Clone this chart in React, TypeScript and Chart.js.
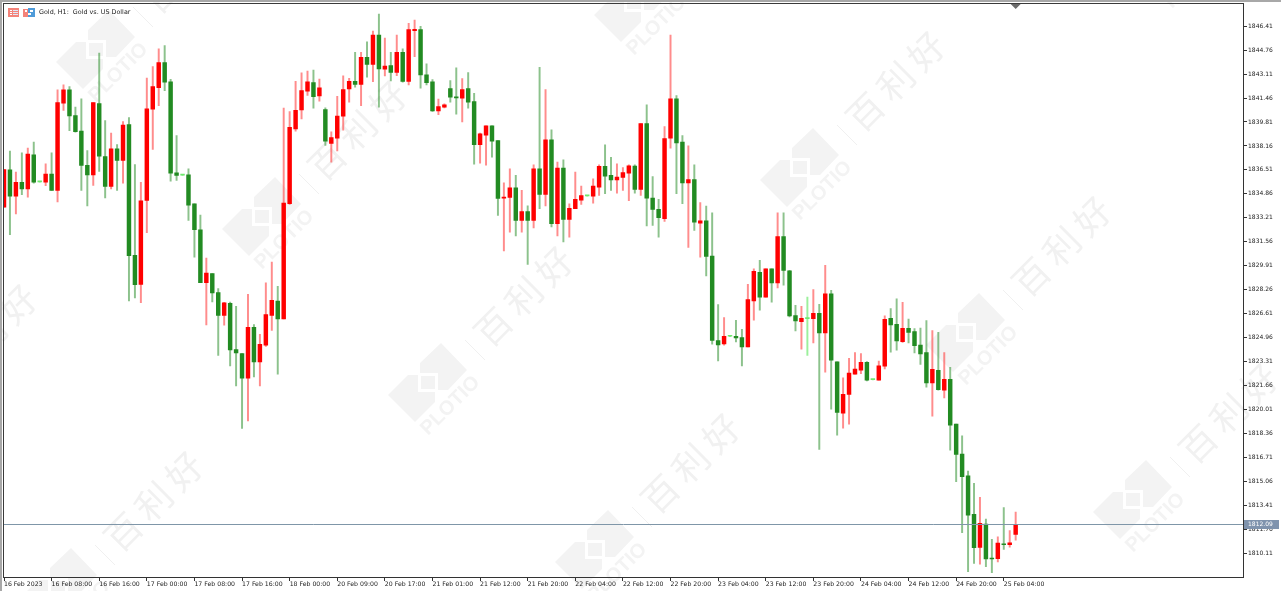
import React, { useEffect, useRef } from "react";
import { Chart, registerables } from "chart.js";

Chart.register(...registerables);

const open = [
  1833.95,1836.52,1834.71,1835.65,1835.21,1837.55,1835.69,1835.67,1836.22,1835.10,
  1841.10,1842.02,1840.25,1839.18,1836.82,1836.17,1841.08,1837.43,1835.37,1837.96,
  1837.16,1839.63,1830.63,1828.63,1834.41,1840.69,1842.18,1843.90,1842.57,1836.31,
  1836.15,1836.17,1834.18,1832.39,1828.75,1829.37,1828.06,1826.50,1827.33,1824.14,
  1823.87,1822.17,1825.68,1823.30,1824.44,1826.50,1827.49,1826.25,1834.18,1839.34,
  1840.64,1841.93,1842.52,1841.61,1840.67,1838.33,1838.70,1840.21,1842.09,1842.61,
  1842.39,1844.26,1843.78,1845.80,1843.44,1843.69,1843.23,1844.61,1842.61,1846.10,
  1846.17,1843.05,1842.57,1840.57,1840.83,1842.11,1841.54,1841.45,1842.11,1841.22,
  1838.24,1838.90,1839.54,1838.53,1834.57,1834.62,1835.28,1833.03,1833.65,1833.03,
  1836.59,1834.82,1838.58,1832.81,1836.63,1833.10,1833.84,1834.43,1834.72,1834.71,
  1835.33,1836.75,1836.13,1835.83,1835.99,1836.29,1836.77,1835.17,1839.70,1834.57,
  1833.79,1833.15,1838.70,1841.40,1838.42,1835.62,1835.85,1832.85,1833.01,1830.58,
  1824.76,1824.53,1825.06,1825.06,1824.97,1824.33,1827.49,1829.46,1827.76,1829.71,
  1828.73,1831.93,1829.57,1826.48,1826.07,1826.28,1826.27,1826.64,1825.29,1827.99,
  1823.30,1819.77,1821.05,1822.45,1822.72,1823.27,1822.08,1822.03,1823.00,1826.30,
  1825.88,1824.69,1825.61,1825.38,1824.46,1823.94,1821.85,1822.72,1821.35,1822.10,
  1819.01,1816.95,1815.46,1812.80,1810.53,1812.13,1809.77,1809.75,1810.76,1810.71,1811.42,
];

const high = [
  1836.54,1837.80,1836.36,1837.69,1838.01,1838.42,1835.72,1836.93,1837.69,1842.02,
  1842.36,1842.25,1840.83,1841.40,1837.85,1841.15,1844.56,1839.91,1839.04,1838.26,
  1839.84,1840.12,1836.88,1835.65,1842.84,1843.62,1844.84,1845.07,1842.75,1838.88,
  1836.17,1836.59,1834.18,1833.40,1830.45,1829.37,1828.34,1827.40,1827.42,1827.12,
  1823.87,1827.95,1825.86,1825.20,1828.73,1830.17,1828.50,1840.76,1840.53,1842.61,
  1843.19,1843.32,1843.39,1842.77,1840.78,1839.13,1841.58,1842.98,1842.82,1844.61,
  1844.61,1845.32,1846.07,1847.24,1845.59,1844.61,1845.80,1844.84,1846.60,1846.83,
  1846.40,1843.81,1842.73,1841.38,1841.06,1842.66,1843.53,1842.80,1843.21,1841.79,
  1839.04,1839.54,1839.54,1838.53,1835.62,1836.59,1836.13,1835.10,1834.04,1836.86,
  1843.58,1842.04,1839.27,1837.05,1837.21,1834.18,1836.36,1835.40,1834.73,1835.90,
  1836.86,1838.24,1837.37,1836.93,1836.68,1836.86,1836.86,1839.70,1840.99,1836.06,
  1834.48,1839.50,1845.80,1841.63,1838.88,1838.17,1836.86,1834.27,1834.02,1833.56,
  1827.24,1826.34,1825.08,1826.16,1825.54,1828.63,1829.71,1830.28,1829.71,1829.71,
  1833.56,1833.56,1829.60,1827.19,1827.12,1827.76,1828.27,1827.26,1829.94,1828.22,
  1823.30,1822.20,1823.55,1823.94,1823.87,1823.32,1822.10,1823.36,1826.46,1826.96,
  1827.63,1827.40,1826.25,1825.59,1825.63,1826.14,1825.45,1825.33,1823.94,1822.93,
  1819.01,1818.21,1815.78,1814.93,1813.97,1812.48,1811.08,1811.26,1813.26,1811.68,1812.96,
];

const low = [
  1833.95,1832.05,1833.49,1834.80,1834.64,1835.60,1835.67,1835.42,1835.10,1834.30,
  1840.60,1839.22,1839.11,1835.10,1834.04,1835.44,1836.40,1834.59,1835.21,1835.10,
  1835.60,1827.49,1827.70,1827.37,1832.19,1837.92,1840.94,1841.97,1835.74,1835.78,
  1836.13,1833.03,1830.51,1828.75,1825.84,1827.42,1823.75,1825.82,1823.02,1821.65,
  1818.71,1819.24,1822.26,1821.65,1824.37,1825.47,1822.45,1826.25,1834.13,1839.18,
  1840.02,1841.63,1840.76,1841.24,1838.19,1837.05,1837.82,1839.25,1841.17,1842.20,
  1840.94,1842.89,1842.59,1840.83,1842.98,1842.64,1843.00,1842.55,1842.36,1844.31,
  1842.13,1842.36,1840.53,1840.32,1840.78,1841.17,1840.35,1839.82,1840.76,1836.91,
  1836.98,1836.84,1837.39,1833.38,1830.93,1832.23,1831.96,1832.23,1830.01,1832.51,
  1833.84,1834.04,1832.58,1831.96,1831.55,1831.89,1833.84,1834.13,1834.71,1834.23,
  1834.75,1834.87,1835.10,1834.91,1835.10,1834.39,1834.91,1834.75,1832.65,1832.69,
  1831.89,1832.97,1838.01,1834.87,1834.18,1831.18,1832.35,1830.51,1829.21,1824.51,
  1823.36,1824.44,1825.04,1824.67,1823.02,1824.33,1826.16,1826.85,1827.76,1827.40,
  1828.38,1828.57,1826.39,1825.43,1824.17,1823.75,1824.60,1817.27,1822.59,1820.04,
  1818.25,1818.73,1819.01,1822.45,1822.49,1821.99,1822.06,1822.03,1822.81,1823.96,
  1824.10,1824.63,1824.60,1823.91,1823.13,1821.55,1819.56,1821.35,1820.82,1817.22,
  1815.05,1811.54,1808.86,1809.43,1809.38,1809.20,1808.79,1809.52,1810.39,1810.55,1811.03,
];

const close = [
  1836.54,1834.71,1835.65,1835.21,1837.60,1835.67,1835.69,1836.22,1835.10,1841.15,
  1842.02,1840.23,1839.15,1836.82,1836.17,1841.15,1837.46,1835.37,1837.96,1837.16,
  1839.59,1830.61,1828.61,1834.39,1840.71,1842.25,1843.90,1842.55,1836.29,1836.13,
  1836.15,1834.09,1832.39,1828.75,1829.41,1828.04,1826.50,1827.37,1824.12,1823.91,
  1822.17,1825.68,1823.30,1824.51,1826.55,1827.53,1826.25,1834.23,1839.45,1840.62,
  1841.97,1842.57,1841.56,1842.16,1838.49,1838.74,1840.21,1842.04,1842.61,1842.39,
  1844.26,1843.78,1845.80,1843.46,1843.65,1843.23,1844.61,1842.61,1846.17,1846.19,
  1843.05,1842.52,1840.57,1840.87,1840.99,1841.51,1841.47,1842.04,1841.17,1838.24,
  1838.99,1839.54,1838.49,1834.55,1834.64,1835.28,1833.03,1833.65,1833.03,1836.59,
  1834.82,1838.58,1832.81,1836.63,1833.10,1833.86,1834.48,1834.75,1834.72,1835.40,
  1836.75,1836.08,1835.83,1836.01,1836.33,1836.79,1835.17,1839.70,1834.57,1833.79,
  1833.22,1838.67,1841.40,1838.37,1835.62,1835.85,1832.92,1833.01,1830.56,1824.78,
  1824.46,1825.06,1825.06,1824.95,1824.33,1827.58,1829.53,1827.76,1829.71,1828.73,
  1831.93,1829.60,1826.46,1826.11,1826.30,1826.28,1826.64,1825.29,1827.99,1823.41,
  1819.81,1821.07,1822.52,1822.81,1823.27,1822.03,1822.08,1823.02,1826.23,1825.84,
  1824.74,1825.61,1825.33,1824.42,1823.85,1821.85,1822.79,1821.39,1822.10,1818.94,
  1816.92,1815.39,1812.75,1810.51,1812.18,1809.73,1809.73,1810.83,1810.71,1810.85,1812.09,
];

const timeLabels = [
  "16 Feb 2023","16 Feb 08:00","16 Feb 16:00","17 Feb 00:00","17 Feb 08:00","17 Feb 16:00",
  "18 Feb 00:00","20 Feb 09:00","20 Feb 17:00","21 Feb 01:00","21 Feb 12:00","21 Feb 20:00",
  "22 Feb 04:00","22 Feb 12:00","22 Feb 20:00","23 Feb 04:00","23 Feb 12:00","23 Feb 20:00",
  "24 Feb 04:00","24 Feb 12:00","24 Feb 20:00","25 Feb 04:00",
];
const barsPerTimeLabel = 8;

const priceTicks = [
  1846.41,1844.76,1843.11,1841.46,1839.81,1838.16,1836.51,1834.86,1833.21,1831.56,1829.91,
  1828.26,1826.61,1824.96,1823.31,1821.66,1820.01,1818.36,1816.71,1815.06,1813.41,1811.76,1810.11,
];
const lastPrice = 1812.09;
const chartTitle = "Gold, H1:  Gold vs. US Dollar";

const RED = "#ff0000";
const GREEN = "#228b22";
const LIME = "#6fe86f";
const WICK_RED = "rgba(255,70,70,0.62)";
const WICK_GREEN = "rgba(34,139,34,0.52)";
const WICK_LIME = "#9cf09c";
const MARK = "#f3f3f3";
const FONT = '"DejaVu Sans", sans-serif';

const logoOrigins: [number, number][] = [
  [56, 62], [222, 229], [388, 395], [555, 562],
  [594, 15], [760, 180], [926, 345], [1093, 512],
  [1132, -32], [18, 600], [-148, 433],
];

function poly(ctx: CanvasRenderingContext2D, pts: number[][]) {
  ctx.beginPath();
  pts.forEach(([x, y], i) => (i ? ctx.lineTo(x, y) : ctx.moveTo(x, y)));
  ctx.closePath();
  ctx.fill();
}

function drawWatermark(ctx: CanvasRenderingContext2D) {
  ctx.save();
  ctx.fillStyle = MARK;
  ctx.strokeStyle = "#f0f0f0";
  for (const [ox, oy] of logoOrigins) {
    ctx.save();
    ctx.translate(ox, oy);
    poly(ctx, [[0, 0], [20, -20], [30, -20], [30, -3], [47, -3], [47, 7], [27, 27]]);
    poly(ctx, [[32, -32], [53, -52], [79, -25], [60, -5], [50, -5], [50, -22], [32, -22]]);
    ctx.fillRect(33, -19, 14, 13);
    ctx.beginPath();
    ctx.moveTo(77, -55);
    ctx.lineTo(97, -35);
    ctx.stroke();
    ctx.save();
    ctx.translate(40, 41);
    ctx.rotate(-Math.PI / 4);
    ctx.font = "bold 20px 'Liberation Sans', sans-serif";
    ctx.textAlign = "left";
    ctx.textBaseline = "alphabetic";
    ctx.fillText("PLOTIO", 0, 0);
    ctx.restore();
    ctx.save();
    ctx.translate(138, -101);
    ctx.rotate(-Math.PI / 4);
    ctx.font = "36px 'Noto Sans CJK SC', sans-serif";
    (ctx as any).letterSpacing = "7px";
    ctx.textAlign = "center";
    ctx.textBaseline = "middle";
    ctx.fillStyle = "#f1f1f1";
    ctx.fillText("百利好", 0, 0);
    ctx.restore();
    ctx.restore();
  }
  ctx.restore();
}

function drawHeader(ctx: CanvasRenderingContext2D) {
  ctx.save();
  // window frame
  ctx.fillStyle = "#a8a8a8";
  ctx.fillRect(0, 0, 1281, 2);
  ctx.fillRect(0, 0, 2, 591);
  ctx.fillStyle = "#3a3a3a";
  ctx.fillRect(3, 3, 1241, 1);
  ctx.fillRect(3, 3, 1, 575);
  // icons
  ctx.fillStyle = "#f4837a";
  ctx.fillRect(8, 8, 11, 9);
  ctx.fillStyle = "#ffffff";
  ctx.fillRect(10, 10, 2, 1);
  ctx.fillRect(10, 12, 2, 1);
  ctx.fillRect(10, 14, 2, 1);
  ctx.fillStyle = "#dfe8f8";
  ctx.fillRect(13, 10, 5, 1);
  ctx.fillRect(13, 12, 5, 1);
  ctx.fillRect(13, 14, 5, 1);
  ctx.fillStyle = "#f4837a";
  ctx.fillRect(23, 9, 5, 8);
  ctx.fillStyle = "#4f9bd9";
  ctx.fillRect(28, 8, 7, 9);
  ctx.fillStyle = "#ffffff";
  ctx.fillRect(25, 10, 2, 2);
  ctx.fillRect(30, 10, 3, 2);
  ctx.fillRect(28, 13, 3, 2);
  // title
  ctx.fillStyle = "#222";
  ctx.font = `6.4px ${FONT}`;
  ctx.textAlign = "left";
  ctx.textBaseline = "middle";
  ctx.fillText(chartTitle, 39, 12.5);
  ctx.restore();
}

const mtPlugin = {
  id: "mtDecor",
  beforeDraw(chart: any) {
    drawWatermark(chart.ctx);
  },
  afterDatasetsDraw(chart: any) {
    const { ctx, chartArea, scales } = chart;
    const y = Math.round(scales.y.getPixelForValue(lastPrice)) - 0.5;
    ctx.save();
    ctx.strokeStyle = "#7f96a8";
    ctx.lineWidth = 1;
    ctx.beginPath();
    ctx.moveTo(chartArea.left, y);
    ctx.lineTo(chartArea.right, y);
    ctx.stroke();
    ctx.restore();
  },
  afterDraw(chart: any) {
    const { ctx, chartArea, scales } = chart;
    const y = scales.y.getPixelForValue(lastPrice);
    ctx.save();
    ctx.fillStyle = "#7f93ad";
    ctx.fillRect(chartArea.right + 1, y - 4.7, 35, 9);
    ctx.fillStyle = "#ffffff";
    ctx.font = `6px ${FONT}`;
    ctx.textAlign = "left";
    ctx.textBaseline = "middle";
    ctx.fillText(lastPrice.toFixed(2), chartArea.right + 5, y);
    // shift marker at the newest bar
    const tx = scales.x.getPixelForValue(open.length - 1);
    ctx.fillStyle = "#6b6b6b";
    ctx.beginPath();
    ctx.moveTo(tx - 5, 4);
    ctx.lineTo(tx + 5, 4);
    ctx.lineTo(tx, 9);
    ctx.closePath();
    ctx.fill();
    ctx.restore();
    drawHeader(ctx);
  },
};

export default function App() {
  const ref = useRef<HTMLCanvasElement | null>(null);

  useEffect(() => {
    if (!ref.current) return;
    const up = (i: number) => close[i] > open[i];
    const flat = (i: number) => close[i] === open[i];
    const chart = new Chart(ref.current, {
      type: "bar",
      data: {
        datasets: [
          {
            label: "Range",
            data: open.map((_, i) => ({ x: i, y: [low[i], high[i]] })),
            backgroundColor: open.map((_, i) =>
              flat(i) ? WICK_LIME : up(i) ? WICK_RED : WICK_GREEN
            ),
            barThickness: 1.3,
            order: 2,
          },
          {
            label: "Body",
            data: open.map((_, i) => ({ x: i, y: [open[i], close[i]] })),
            backgroundColor: open.map((_, i) =>
              flat(i) ? LIME : up(i) ? RED : GREEN
            ),
            barThickness: 3.8,
            minBarLength: 1,
            order: 1,
          },
        ] as any,
      },
      options: {
        animation: false,
        responsive: false,
        devicePixelRatio: 1,
        layout: { padding: { left: 4, top: 4, right: 0, bottom: 0 } },
        plugins: { legend: { display: false }, tooltip: { enabled: false } },
        datasets: { bar: { grouped: false } },
        scales: {
          x: {
            type: "linear",
            offset: false,
            min: 0,
            max: 208.2,
            grid: { drawOnChartArea: false, color: "#333", tickLength: 4, offset: false },
            border: { color: "#333" },
            afterBuildTicks: (s: any) => {
              s.ticks = timeLabels.map((_, k) => ({ value: k * barsPerTimeLabel }));
            },
            afterFit: (s: any) => {
              s.height = 14;
            },
            ticks: {
              autoSkip: false,
              maxRotation: 0,
              align: "start",
              padding: 0,
              color: "#222",
              font: { family: '"DejaVu Sans", sans-serif', size: 6.2 },
              callback: (v: any) => timeLabels[Math.round(v / barsPerTimeLabel)] ?? "",
            },
          },
          y: {
            position: "right",
            min: 1808.49,
            max: 1847.89,
            grid: { drawOnChartArea: false, color: "#333", tickLength: 4 },
            border: { color: "#333" },
            afterBuildTicks: (s: any) => {
              s.ticks = priceTicks.map((value) => ({ value }));
            },
            afterFit: (s: any) => {
              s.width = 38;
            },
            ticks: {
              autoSkip: false,
              padding: 1,
              color: "#222",
              font: { family: '"DejaVu Sans", sans-serif', size: 6 },
              callback: (v: any) => Number(v).toFixed(2),
            },
          },
        },
      } as any,
      plugins: [mtPlugin],
    });
    return () => chart.destroy();
  }, []);

  return (
    <div style={{ position: "fixed", left: 0, top: 0, width: 1281, height: 591, background: "#fff" }}>
      <canvas ref={ref} width={1281} height={591} style={{ display: "block" }} />
    </div>
  );
}
